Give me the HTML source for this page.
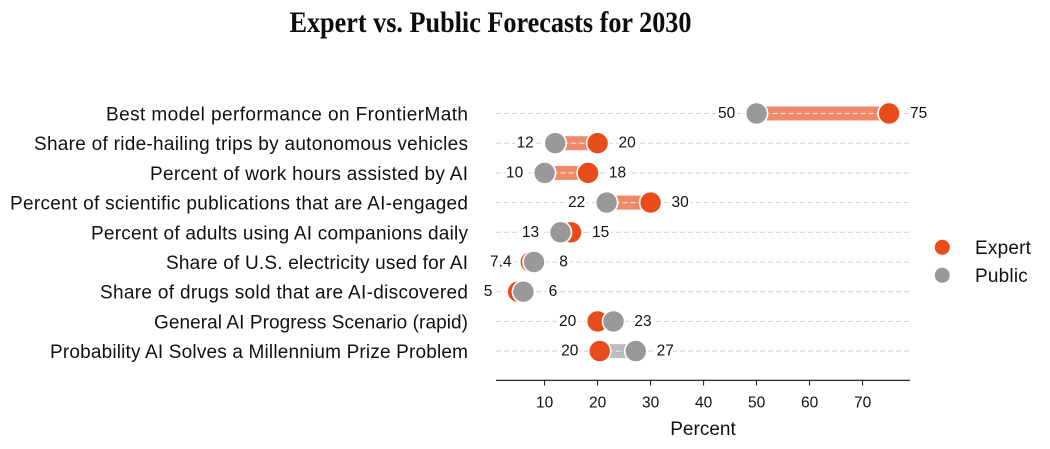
<!DOCTYPE html>
<html lang="en">
<head>
<meta charset="utf-8">
<title>Expert vs. Public Forecasts for 2030</title>
<style>
html,body{margin:0;padding:0;background:#fff;}
body{width:1050px;height:449px;overflow:hidden;}
svg{display:block;}
text{font-family:"Liberation Sans",sans-serif;fill:#111;}
.title{font-family:"Liberation Serif",serif;font-weight:700;font-size:30px;fill:#0c0c0c;}
.cat{font-size:19px;text-anchor:end;}
.val{font-size:15.5px;text-anchor:middle;paint-order:stroke;stroke:#fff;stroke-width:5px;}
.tick{font-size:15.5px;text-anchor:middle;}
.axt{font-size:19px;text-anchor:middle;}
.leg{font-size:19px;letter-spacing:.2px;}
</style>
</head>
<body>
<svg id="chart" width="1050" height="449" viewBox="0 0 1050 449">
<text class="title" x="490.500" y="32" text-anchor="middle" textLength="402" lengthAdjust="spacingAndGlyphs">Expert vs. Public Forecasts for 2030</text>
</svg>
<script>
const categories = [
  "Best model performance on FrontierMath",
  "Share of ride-hailing trips by autonomous vehicles",
  "Percent of work hours assisted by AI",
  "Percent of scientific publications that are AI-engaged",
  "Percent of adults using AI companions daily",
  "Share of U.S. electricity used for AI",
  "Share of drugs sold that are AI-discovered",
  "General AI Progress Scenario (rapid)",
  "Probability AI Solves a Millennium Prize Problem"
];
const expertValues = [75, 20, 18.2, 30, 15, 7.4, 5, 20, 20.4];
const publicValues = [50, 12, 10, 21.7, 13, 8, 6, 23, 27.2];
const expertLabels = ["75", "20", "18", "30", "15", "7.4", "5", "20", "20"];
const publicLabels = ["50", "12", "10", "22", "13", "8", "6", "23", "27"];
const xTicks = [10, 20, 30, 40, 50, 60, 70];

const svg = document.getElementById('chart');
const NS = 'http://www.w3.org/2000/svg';
const ORANGE = '#e84c1a', GREY = '#999999';
const xAxis = v => 491.6 + 5.3 * v;
const yAxis = i => 113.5 + 29.7 * i;

function make(tag, attrs, text) {
  const el = document.createElementNS(NS, tag);
  for (const k in attrs) el.setAttribute(k, attrs[k]);
  if (text !== undefined) el.textContent = text;
  svg.appendChild(el);
  return el;
}

function fitLabelWidth(name) {
  const fit = new Map([
    ["Best model performance on FrontierMath", 362],
    ["Share of ride-hailing trips by autonomous vehicles", 434],
    ["Percent of work hours assisted by AI", 318],
    ["Percent of scientific publications that are AI-engaged", 458],
    ["Percent of adults using AI companions daily", 377],
    ["Share of U.S. electricity used for AI", 302],
    ["Share of drugs sold that are AI-discovered", 368],
    ["General AI Progress Scenario (rapid)", 314],
    ["Probability AI Solves a Millennium Prize Problem", 418]
  ]);
  return fit.get(name);
}

categories.forEach((c, i) => {
  const y = yAxis(i);
  const grid = make('line', {x1: 496, x2: 910, y1: y, y2: y, stroke: '#d2d2d2', 'stroke-width': 1, 'stroke-dasharray': '5 3'});
  
  
  const label = make('text', {class: 'cat', x: 468, y: y + 7, lengthAdjust: 'spacing'}, c);
  const w = fitLabelWidth(c);
  if (w) label.setAttribute('textLength', w);
  
  
});

categories.forEach((c, i) => {
  const y = yAxis(i);
  const e = xAxis(expertValues[i]), p = xAxis(publicValues[i]);
  const lo = Math.min(e, p), hi = Math.max(e, p);
  const bar = make('rect', {x: lo, y: y - 7, width: hi - lo, height: 14, fill: expertValues[i] >= publicValues[i] ? '#ee8a6c' : '#bdbdbd'});
  
  
  const dash = make('line', {x1: lo, x2: hi, y1: y, y2: y, stroke: '#fff', 'stroke-opacity': .8, 'stroke-width': 1, 'stroke-dasharray': '5 3'});
  
  

  const expertDot = make('circle', {cx: e, cy: y, r: 11, fill: ORANGE, stroke: '#fff', 'stroke-width': 1.6});
  
  
  const publicDot = make('circle', {cx: p, cy: y, r: 11, fill: GREY, stroke: '#fff', 'stroke-width': 1.6});
  
  

  const eRight = expertValues[i] >= publicValues[i];
  const ev = make('text', {class: 'val', x: e + (eRight ? 29.5 : -30), y: y + 4.5}, expertLabels[i]);
  
  
  const pv = make('text', {class: 'val', x: p + (eRight ? -30 : 29.5), y: y + 4.5}, publicLabels[i]);
  
  
});

const axisLine = make('line', {x1: 496, x2: 910, y1: 380.3, y2: 380.3, stroke: '#111', 'stroke-width': 1.2});



xTicks.forEach(t => {
  const x = xAxis(t);
  const mark = make('line', {x1: x, x2: x, y1: 380.3, y2: 385.5, stroke: '#111', 'stroke-width': 1});
  
  
  const lab = make('text', {class: 'tick', x: x, y: 407.5}, t);
  
  
});

const axisTitle = make('text', {class: 'axt', x: 703, y: 435}, 'Percent');



const legendExpertDot = make('circle', {cx: 942.3, cy: 247.3, r: 7.5, fill: ORANGE});


const legendExpertText = make('text', {class: 'leg', x: 975, y: 254}, 'Expert');


const legendPublicDot = make('circle', {cx: 942.3, cy: 275.3, r: 7.5, fill: GREY});


const legendPublicText = make('text', {class: 'leg', x: 975, y: 282}, 'Public');


</script>
</body>
</html>
